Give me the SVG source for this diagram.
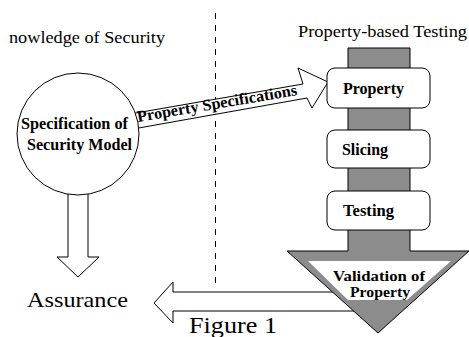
<svg xmlns="http://www.w3.org/2000/svg" width="469" height="337" viewBox="0 0 469 337">
<style>
.b{font-weight:bold;font-size:16px}
.box{fill:#fff;stroke:#000;stroke-width:1}
.ol{fill:#fff;stroke:#000;stroke-width:1}
</style>
<rect width="469" height="337" fill="#fff"/>
<g font-family="Liberation Serif, DejaVu Serif, serif" fill="#000">
<text font-family="Liberation Serif, serif" x="9" y="43" font-size="17" textLength="156" lengthAdjust="spacingAndGlyphs">nowledge of Security</text>
<text font-family="Liberation Serif, serif" x="298" y="37" font-size="16.5" textLength="169" lengthAdjust="spacingAndGlyphs">Property-based Testing</text>
</g>
<line x1="215.5" y1="13" x2="215.5" y2="287" stroke="#000" stroke-width="1" stroke-dasharray="6,6"/>
<g id="connectors">
<polygon class="ol" points="130,114 303,84 298,68 328,82 312,108 307,98 133,129"/>
<polygon class="ol" points="68,190 88,190 88,257 99,257 78,277 57,257 68,257"/>
<polygon class="ol" points="154,303 173,282 173,292 400,292 400,311 173,311 173,323"/>
</g>
<g id="spec" font-family="Liberation Serif, serif">
<circle cx="78" cy="134" r="61" class="ol"/>
<text class="b" font-family="Liberation Serif, serif" x="21" y="129" textLength="107" lengthAdjust="spacingAndGlyphs">Specification of</text>
<text class="b" font-family="Liberation Serif, serif" x="27" y="150" textLength="105" lengthAdjust="spacingAndGlyphs">Security Model</text>
</g>
<text class="b" font-family="Liberation Serif, serif" transform="translate(138,122) rotate(-9.6)" x="0" y="0" textLength="162" lengthAdjust="spacingAndGlyphs">Property Specifications</text>
<g id="pipeline">
<polygon points="348,48 410,48 410,251 469,251 378,333 287,251 348,251" fill="#8c8c8c" stroke="#000" stroke-width="1"/>
</g>
<g id="property">
<rect class="box" x="327" y="68" width="103" height="40" rx="8"/>
<text class="b" font-family="Liberation Serif, serif" x="343" y="94" textLength="61" lengthAdjust="spacingAndGlyphs">Property</text>
</g>
<g id="slicing">
<rect class="box" x="327" y="130" width="103" height="38" rx="8"/>
<text class="b" font-family="Liberation Serif, serif" x="342" y="155" textLength="46" lengthAdjust="spacingAndGlyphs">Slicing</text>
</g>
<g id="testing">
<rect class="box" x="327" y="191" width="103" height="39" rx="8"/>
<text class="b" font-family="Liberation Serif, serif" x="343" y="216" textLength="51" lengthAdjust="spacingAndGlyphs">Testing</text>
</g>
<g id="validation">
<polygon points="308,261 451,261 407,300 348,300" fill="#fff"/>
<text font-weight="bold" font-size="15" font-family="Liberation Serif, serif" x="333" y="281" textLength="92" lengthAdjust="spacingAndGlyphs">Validation of</text>
<text font-weight="bold" font-size="15" font-family="Liberation Serif, serif" x="350" y="297" textLength="60" lengthAdjust="spacingAndGlyphs">Property</text>
</g>
<text font-family="Liberation Serif, serif" x="27" y="307" font-size="22" textLength="101" lengthAdjust="spacingAndGlyphs">Assurance</text>
<text font-family="Liberation Serif, serif" x="189" y="333" font-size="24" textLength="88" lengthAdjust="spacingAndGlyphs">Figure 1</text>
</svg>
